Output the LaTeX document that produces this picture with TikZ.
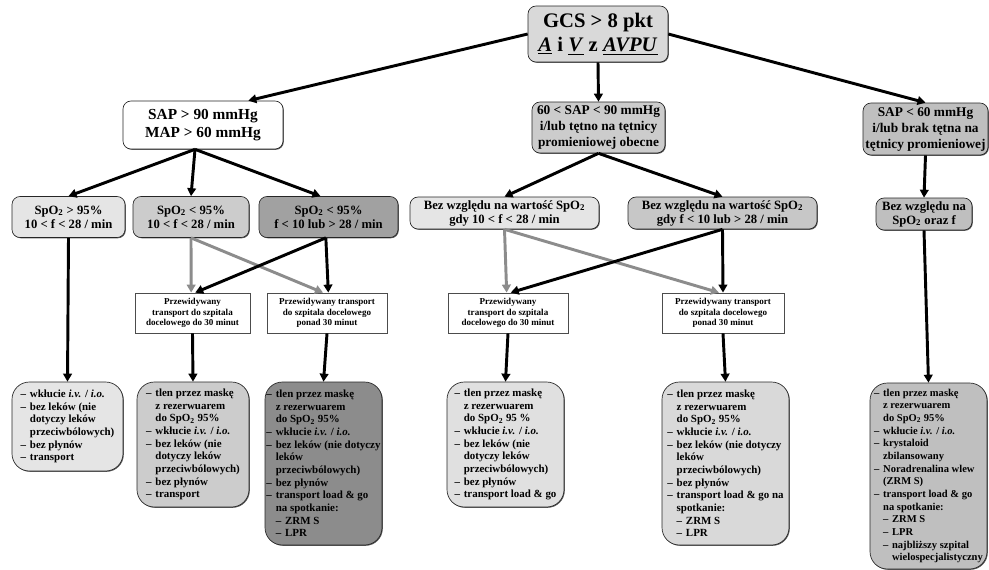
\documentclass[tikz,border=0pt]{standalone}
\usepackage{fontspec}
\setmainfont{Liberation Serif}
\usetikzlibrary{arrows.meta,shadows}

\newcommand{\dsh}{\makebox[0.85em][l]{–}}
\newcommand{\ind}{\hspace*{0.85em}}
\newcommand{\spo}{SpO\textsubscript{2}}
\newcommand{\ivio}{\textit{i.v.} / \textit{i.o.}}

\tikzset{
  sz/.style 2 args={minimum width=#1*0.75pt, minimum height=#2*0.75pt},
  shd/.style={general shadow={fill=black!65, shadow xshift=0.6pt, shadow yshift=-0.6pt}},
  rbox/.style={draw=black!85, line width=0.5pt, rounded corners=6pt, shd,
               align=center, inner sep=1pt},
  gcsbox/.style={rbox, fill=black!15, font=\fontsize{15.5}{18}\selectfont\bfseries},
  condbox/.style={rbox, font=\fontsize{10}{12}\selectfont\bfseries},
  bigbox/.style={rbox, font=\fontsize{11.5}{13}\selectfont\bfseries},
  subbox/.style={rbox, font=\fontsize{9.5}{10.5}\selectfont\bfseries},
  tranbox/.style={draw=black!70, line width=0.6pt, fill=white, align=center,
                  inner sep=1pt, font=\fontsize{6.8}{7.8}\selectfont\bfseries},
  actbox/.style={rbox, rounded corners=13pt, align=left,
                 font=\fontsize{8.2}{9.5}\selectfont\bfseries},
  blk/.style={line width=2.2pt, -{Triangle[length=6pt,width=6.5pt]}},
  gry/.style={blk, draw=black!45}
}

\begin{document}
\begin{tikzpicture}[x=0.75pt, y=-0.75pt]
\useasboundingbox (0,0) rectangle (989,569);

% top of the scheme
\node[gcsbox, sz={140}{56}] (gcs) at (598,34)
  {GCS > 8 pkt\\\underline{\textit{A}} i \underline{\textit{V}} z \underline{\textit{AVPU}}};

% blood pressure
\node[bigbox, fill=white, sz={160}{48}] (sapA) at (203,125)
  {SAP > 90 mmHg\\MAP > 60 mmHg};
\node[condbox, fill=black!20, sz={133}{51}] (sapB) at (598.5,127.5)
  {60 < SAP < 90 mmHg\\i/lub tętno na tętnicy\\promieniowej obecne};
\node[condbox, fill=black!25, sz={125}{52}] (sapC) at (925.5,129)
  {SAP < 60 mmHg\\i/lub brak tętna na\\tętnicy promieniowej};

% saturation and breathing rate
\node[subbox, fill=black!10, sz={113}{41}] (r1) at (68.5,217)
  {\spo{} > 95\%\\10 < f < 28 / min};
\node[subbox, fill=black!20, sz={116}{41}] (r2) at (191,217)
  {\spo{} < 95\%\\10 < f < 28 / min};
\node[subbox, fill=black!37, sz={139}{41}] (r3) at (328.5,217)
  {\spo{} < 95\%\\f < 10 lub > 28 / min};
\node[subbox, fill=black!10, sz={189}{32}] (r4) at (504.5,213)
  {Bez względu na wartość \spo\\gdy 10 < f < 28 / min};
\node[subbox, fill=black!22, sz={189}{32}] (r5) at (722.5,213)
  {Bez względu na wartość \spo\\gdy f < 10 lub > 28 / min};
\node[subbox, fill=black!25, sz={96}{32}] (r6) at (924,214)
  {Bez względu na\\\spo{} oraz f};

% transport time
\node[tranbox, sz={115}{40}] (tA) at (192.5,313)
  {Przewidywany\\transport do szpitala\\docelowego do 30 minut};
\node[tranbox, sz={120}{40}] (tB) at (327,313)
  {Przewidywany transport\\do szpitala docelowego\\ponad 30 minut};
\node[tranbox, sz={120}{40}] (tC) at (508,313)
  {Przewidywany\\transport do szpitala\\docelowego do 30 minut};
\node[tranbox, sz={122}{40}] (tD) at (723,313)
  {Przewidywany transport\\do szpitala docelowego\\ponad 30 minut};

% what to do
\node[actbox, fill=black!10, sz={111}{89}] (e1) at (67.5,426.5)
  {\dsh wkłucie \ivio\\\dsh bez leków (nie\\\ind dotyczy leków\\\ind przeciwbólowych)\\
   \dsh bez płynów\\\dsh transport};
\node[actbox, fill=black!20, sz={112}{125}] (e2) at (193,444.5)
  {\dsh tlen przez maskę\\\ind z rezerwuarem\\\ind do \spo{} 95\%\\\dsh wkłucie \ivio\\
   \dsh bez leków (nie\\\ind dotyczy leków\\\ind przeciwbólowych)\\\dsh bez płynów\\\dsh transport};
\node[actbox, fill=black!45, sz={117}{163}] (e3) at (323.5,463.5)
  {\dsh tlen przez maskę\\\ind z rezerwuarem\\\ind do \spo{} 95\%\\\dsh wkłucie \ivio\\
   \dsh bez leków (nie dotyczy\\\ind leków\\\ind przeciwbólowych)\\\dsh bez płynów\\
   \dsh transport load \& go\\\ind na spotkanie:\\\ind\dsh ZRM S\\\ind\dsh LPR};
\node[actbox, fill=black!12, sz={117}{125}] (e4) at (505.5,444.5)
  {\dsh tlen przez maskę\\\ind z rezerwuarem\\\ind do \spo{} 95 \%\\\dsh wkłucie \ivio\\
   \dsh bez leków (nie\\\ind dotyczy leków\\\ind przeciwbólowych)\\\dsh bez płynów\\
   \dsh transport load \& go};
\node[actbox, fill=black!15, sz={127}{163}] (e5) at (725.5,463.5)
  {\dsh tlen przez maskę\\\ind z rezerwuarem\\\ind do \spo{} 95\%\\\dsh wkłucie \ivio\\
   \dsh bez leków (nie dotyczy\\\ind leków\\\ind przeciwbólowych)\\\dsh bez płynów\\
   \dsh transport load \& go na\\\ind spotkanie:\\\ind\dsh ZRM S\\\ind\dsh LPR};
\node[actbox, fill=black!25, sz={117}{186}, font=\fontsize{7.9}{9.5}\selectfont\bfseries] (e6) at (928.5,476)
  {\dsh tlen przez maskę\\\ind z rezerwuarem\\\ind do \spo{} 95\%\\\dsh wkłucie \ivio\\
   \dsh krystaloid\\\ind zbilansowany\\\dsh Noradrenalina wlew\\\ind (ZRM S)\\
   \dsh transport load \& go\\\ind na spotkanie:\\\ind\dsh ZRM S\\\ind\dsh LPR\\
   \ind\dsh najbliższy szpital\\\ind\ind wielospecjalistyczny};

% arrows from the top
\draw[blk] (gcs.west) -- ([xshift=34pt]sapA.north);
\draw[blk] (gcs.south) -- (sapB.north);
\draw[blk] (gcs.east) -- (sapC.north);

\draw[blk] ([xshift=-6pt]sapA.south) -- (r1.north);
\draw[blk] ([xshift=-6pt]sapA.south) -- (r2.north);
\draw[blk] ([xshift=-6pt]sapA.south) -- ([xshift=-6pt]r3.north);
\draw[blk] (sapB.south) -- (r4.north);
\draw[blk] (sapB.south) -- (r5.north);
\draw[blk] (sapC.south) -- (r6.north);

% crossing arrows
\draw[gry] (r2.south) -- ([xshift=-1pt]tA.north);
\draw[gry] (r2.south) -- ([xshift=-3pt]tB.north);
\draw[blk] ([xshift=-2pt]r3.south) -- ([xshift=1pt]tB.north);
\draw[blk] ([xshift=-2pt]r3.south) -- ([xshift=2pt]tA.north);
\draw[gry] (r4.south) -- ([xshift=-1pt]tC.north);
\draw[gry] (r4.south) -- ([xshift=-3pt]tD.north);
\draw[blk] (r5.south) -- (tD.north);
\draw[blk] (r5.south) -- ([xshift=2pt]tC.north);

% down to the actions
\draw[blk] (r1.south) -- (e1.north);
\draw[blk] (tA.south) -- (e2.north);
\draw[blk] (tB.south) -- (e3.north);
\draw[blk] (tC.south) -- (e4.north);
\draw[blk] (tD.south) -- (e5.north);
\draw[blk] (r6.south) -- (e6.north);

\end{tikzpicture}
\end{document}
